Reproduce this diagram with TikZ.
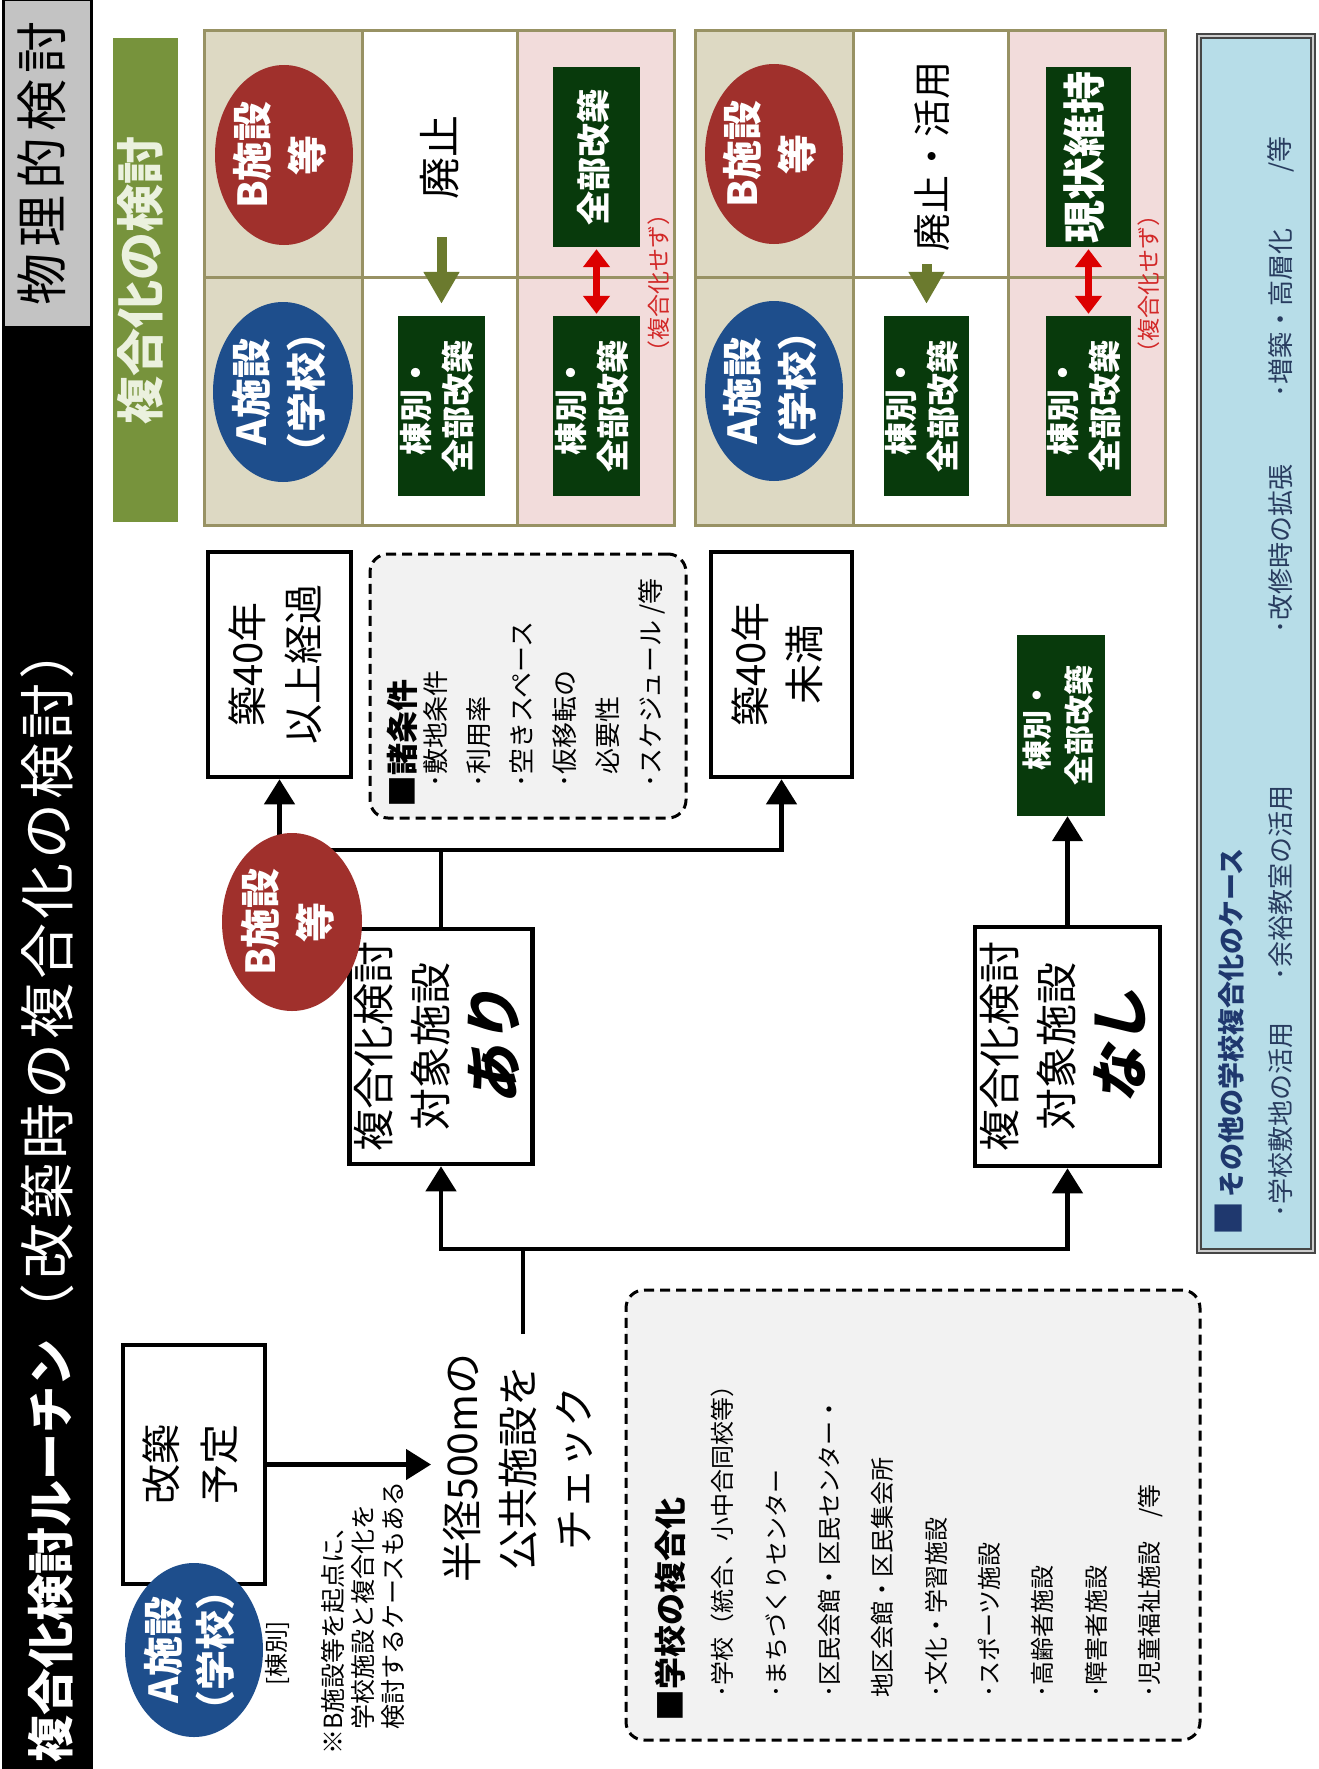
\documentclass[tikz,border=0pt]{standalone}
\usepackage{fontspec}
\setmainfont{Noto Sans CJK JP}
\newfontfamily\jpsl[FakeSlant=0.22]{Noto Sans CJK JP}
\usetikzlibrary{arrows.meta,shapes.geometric}
\definecolor{olivebar}{RGB}{119,147,60}
\definecolor{palegreen}{RGB}{235,241,222}
\definecolor{gridc}{RGB}{152,146,100}
\definecolor{beige}{RGB}{221,217,195}
\definecolor{pinkc}{RGB}{242,220,219}
\definecolor{dkgreen}{RGB}{8,58,12}
\definecolor{oarrow}{RGB}{107,122,46}
\definecolor{redc}{RGB}{220,0,0}
\definecolor{redtxt}{RGB}{210,40,40}
\definecolor{bred}{RGB}{160,48,44}
\definecolor{ablue}{RGB}{30,78,140}
\definecolor{lblue}{RGB}{183,221,232}
\definecolor{lgrey}{RGB}{242,242,242}
\definecolor{greybox}{RGB}{195,195,195}
\definecolor{navy}{RGB}{31,56,110}
\definecolor{navytxt}{RGB}{40,60,95}
\definecolor{bdark}{RGB}{70,70,70}
\definecolor{blight}{RGB}{205,205,205}
\newcommand\RT[3]{\rotatebox{90}{\fontsize{#1}{#2}\selectfont\begin{tabular}{@{}c@{}}#3\end{tabular}}}
\newcommand\gp{\hspace{4pt}}
\newcommand\gs{\hspace{6pt}}
\begin{document}
\begin{tikzpicture}[x=1pt,y=-1pt,
  ln/.style={line width=4.5pt},
  arr/.style={line width=4.5pt,-{Triangle[width=30pt,length=25pt]}},
  box/.style={draw,line width=4.5pt,fill=white,inner sep=0pt},
  gbox/.style={fill=dkgreen,inner sep=0pt,text=white,font=\bfseries},
  circB/.style={ellipse,fill=bred,inner sep=0pt},
  circA/.style={ellipse,fill=ablue,inner sep=0pt},
  rtxt/.style={rotate=90,inner sep=0pt},
  dbox/.style={draw,dash pattern=on 10pt off 6pt,line width=3pt,rounded corners=18pt,fill=lgrey,inner sep=0pt},
  oarr/.style={oarrow,line width=10pt,-{Triangle[width=34pt,length=32pt]}},
  rarr/.style={redc,line width=7pt,{Triangle[width=26pt,length=18pt]}-{Triangle[width=26pt,length=18pt]},shorten <=2pt,shorten >=2pt},
  gline/.style={gridc,line width=3pt}
]
\useasboundingbox (0,0) rectangle (1318,1769);
\fill[white] (0,0) rectangle (1318,1769);

% ---------- title bar ----------
\fill[black] (2,0) rectangle (93,1769);
\node[draw=black,line width=1.5pt,fill=greybox,minimum width=86pt,minimum height=326pt,inner sep=0pt] (phys) at (47.5,163.5) {\RT{52}{52}{物\gs 理\gs 的\gs 検\gs 討}};
\node[rtxt,anchor=west,text=white,font=\bfseries\fontsize{47}{47}\selectfont] (title) at (47,1763) {複合化検討ルーチン{\mdseries\fontsize{56}{56}\selectfont （\gp 改\gp 築\gp 時\gp の\gp 複\gp 合\gp 化\gp の\gp 検\gp 討\gp ）}};

% ---------- green bar ----------
\node[fill=olivebar,minimum width=65pt,minimum height=483pt,inner sep=0pt,text=palegreen,font=\bfseries] (gbar) at (145.5,280) {\RT{48}{48}{複合化の検討}};

% ---------- grid 1 ----------
\fill[beige] (204,31) rectangle (362,525);
\fill[pinkc] (517,31) rectangle (674,525);
\draw[gline] (204,31) rectangle (674,525) (362,31) -- (362,525) (517,31) -- (517,525) (204,277) -- (674,277);
% ---------- grid 2 ----------
\fill[beige] (695,31) rectangle (853,525);
\fill[pinkc] (1008,31) rectangle (1165,525);
\draw[gline] (695,31) rectangle (1165,525) (853,31) -- (853,525) (1008,31) -- (1008,525) (695,277) -- (1165,277);

\node[circB,minimum width=138pt,minimum height=180pt] (g1B) at (284,155) {};
\node[text=white,font=\bfseries] at (g1B) {\RT{40}{55}{B施設\\等}};
\node[circA,minimum width=140pt,minimum height=180pt] (g1A) at (283,392) {};
\node[text=white,font=\bfseries] at (g1A) {\RT{40}{55}{A施設\\（学校）}};
\node[circB,minimum width=138pt,minimum height=180pt] (g2B) at (774,154) {};
\node[text=white,font=\bfseries] at (g2B) {\RT{40}{55}{B施設\\等}};
\node[circA,minimum width=138pt,minimum height=180pt] (g2A) at (774,391) {};
\node[text=white,font=\bfseries] at (g2A) {\RT{40}{55}{A施設\\（学校）}};

\node[rtxt,font=\fontsize{42}{42}\selectfont] (hs1) at (440,157) {廃止};
\node[rtxt,font=\fontsize{38}{38}\selectfont] (hs2) at (932,156) {廃止・活用};

\node[gbox,minimum width=87pt,minimum height=180pt] (g1m) at (441.5,406) {\RT{33}{42}{棟別・\\全部改築}};
\node[gbox,minimum width=87pt,minimum height=180pt] (g1rt) at (596.5,157) {\RT{34}{34}{全部改築}};
\node[gbox,minimum width=87pt,minimum height=180pt] (g1rb) at (596.5,406) {\RT{33}{42}{棟別・\\全部改築}};
\node[gbox,minimum width=85pt,minimum height=180pt] (g2m) at (926.5,406) {\RT{33}{42}{棟別・\\全部改築}};
\node[gbox,minimum width=85pt,minimum height=180pt] (g2rt) at (1088.5,157) {\RT{43}{43}{現状維持}};
\node[gbox,minimum width=85pt,minimum height=180pt] (g2rb) at (1088.5,406) {\RT{33}{42}{棟別・\\全部改築}};

\draw[oarr,shorten >=12pt] (hs1.west -| g1m.north) ++(0,38) -- (g1m.north);
\draw[oarr,shorten >=12pt] (hs2.west -| g2m.north) ++(0,13) -- (g2m.north);
\draw[rarr] (g1rt.south) -- (g1rb.north);
\draw[rarr] (g2rt.south) -- (g2rb.north);
\node[rtxt,text=redtxt,font=\fontsize{23}{23}\selectfont] (nc1) at (659,283) {（複合化せず）};
\node[rtxt,text=redtxt,font=\fontsize{23}{23}\selectfont] (nc2) at (1149,284) {（複合化せず）};

% ---------- blue box ----------
\node[draw=bdark,double=blight,double distance=2pt,line width=2pt,fill=lblue,minimum width=114pt,minimum height=1215pt,inner sep=0pt] (other) at (1256,643.5) {};
\node[rtxt,anchor=west,text=navy,font=\bfseries\fontsize{27}{27}\selectfont] (otherh) at (1230,1236) {{\fontsize{34}{34}\selectfont ■}\hspace{4pt}その他の学校複合化のケース};
\node[rtxt,anchor=west,text=navytxt,font=\fontsize{26}{26}\selectfont] (o1) at (1281,1218) {･学校敷地の活用};
\node[rtxt,anchor=west,text=navytxt,font=\fontsize{26}{26}\selectfont] (o2) at (1281,981) {･余裕教室の活用};
\node[rtxt,anchor=west,text=navytxt,font=\fontsize{26}{26}\selectfont] (o3) at (1281,634) {･改修時の拡張};
\node[rtxt,anchor=west,text=navytxt,font=\fontsize{26}{26}\selectfont] (o4) at (1281,398) {･増築・高層化};
\node[rtxt,anchor=west,text=navytxt,font=\fontsize{26}{26}\selectfont] (o5) at (1281,173) {/等};

% ---------- flow ----------
\node[box,minimum width=143pt,minimum height=225pt] (b40) at (279.5,664.5) {\RT{40}{56}{築40年\\以上経過}};
\node[box,minimum width=141pt,minimum height=225pt] (m40) at (781.5,664.5) {\RT{40}{54}{築40年\\未満}};
\node[dbox,minimum width=316pt,minimum height=264pt] (cond) at (528,686) {};
\node[rtxt,anchor=west,font=\bfseries\fontsize{32}{32}\selectfont] (condh) at (402,808) {■諸条件};
\node[rtxt,anchor=west,align=left,font=\fontsize{26}{43}\selectfont] (condl) at (544,788) {･敷地条件\\･利用率\\･空きスペース\\･仮移転の\\\hspace*{13pt}必要性\\･スケジュール /等};

\node[box,minimum width=180pt,minimum height=235pt] (ari) at (441,1046.5) {\RT{42}{57}{複合化検討\\対象施設\\[4pt]{\jpsl\bfseries\fontsize{58}{58}\selectfont あり}}};
\node[box,minimum width=185pt,minimum height=239pt] (nashi) at (1067.5,1046.5) {\RT{42}{57}{複合化検討\\対象施設\\[4pt]{\jpsl\bfseries\fontsize{58}{58}\selectfont なし}}};
\node[gbox,minimum width=88pt,minimum height=181pt] (tb) at (1061,725.5) {\RT{30}{42}{棟別・\\全部改築}};

\node[box,minimum width=142pt,minimum height=239pt] (kai) at (194,1464.5) {\RT{40}{58}{改築\\予定}};
\node[rtxt,align=center,font=\fontsize{41}{56}\selectfont] (hankei) at (518,1468) {半径500mの\\公共施設を\\チェック};
\node[rtxt,anchor=west,align=left,font=\fontsize{25}{30}\selectfont] (note) at (363,1755) {※B施設等を起点に、\\\hspace*{1em}学校施設と複合化を\\\hspace*{1em}検討するケースもある};
\node[rtxt,font=\fontsize{24}{24}\selectfont] (tobetsu) at (277,1653) {[棟別]};

\node[dbox,minimum width=574pt,minimum height=450pt] (school) at (913,1515) {};
\node[rtxt,anchor=west,font=\bfseries\fontsize{32}{32}\selectfont] (schoolh) at (670,1722) {■学校の複合化};
\node[rtxt,anchor=west,align=left,font=\fontsize{24}{53.3}\selectfont] (schooll) at (937,1698) {･学校（統合、小中合同校等）\\･まちづくりセンター\\･区民会館・区民センター・\\地区会館・区民集会所\\･文化・学習施設\\･スポーツ施設\\･高齢者施設\\･障害者施設\\･児童福祉施設　/等};

% connectors
\coordinate (hk) at (523,1334);
\coordinate (J1) at (523,1249);
\coordinate (J2) at (441,850);
\draw[arr,shorten >=12pt] (kai) -- (kai -| hankei.north);
\draw[ln] (hk) -- (J1);
\draw[arr] (J1) -| (ari);
\draw[arr] (J1) -| (nashi);
\draw[ln] (ari) -- (J2);
\draw[arr] (J2) -| (b40);
\draw[arr] (J2) -| (m40);
\draw[arr] (nashi.north) -- (nashi.north |- tb.south);

% circles on top
\node[circB,minimum width=140pt,minimum height=178pt] (fB) at (292,922) {};
\node[text=white,font=\bfseries] at (fB) {\RT{40}{55}{B施設\\等}};
\node[circA,minimum width=138pt,minimum height=174pt] (fA) at (194,1650) {};
\node[text=white,font=\bfseries] at (fA) {\RT{40}{52}{A施設\\（学校）}};
\end{tikzpicture}
\end{document}
